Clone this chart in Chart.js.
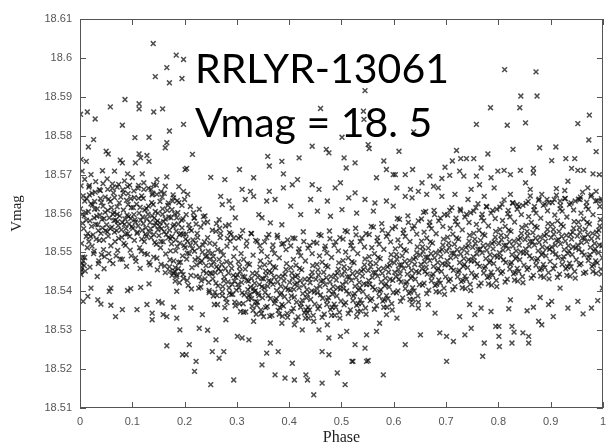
<!DOCTYPE html>
<html>
<head>
<meta charset="utf-8">
<script src="https://cdn.jsdelivr.net/npm/chart.js@4.4.1/dist/chart.umd.min.js"></script>
<style>
  html, body { margin: 0; padding: 0; background: #fff; }
  #wrap { width: 613px; height: 446px; }
</style>
</head>
<body>
<div id="wrap"><canvas id="lightCurve" width="613" height="446"></canvas></div>
<script>
// axis ticks
const xTicks = [0, 0.1, 0.2, 0.3, 0.4, 0.5, 0.6, 0.7, 0.8, 0.9, 1];
const xTickLabels = ['0', '0.1', '0.2', '0.3', '0.4', '0.5', '0.6', '0.7', '0.8', '0.9', '1'];
const yTicks = [18.51, 18.52, 18.53, 18.54, 18.55, 18.56, 18.57, 18.58, 18.59, 18.6, 18.61];
const yTickLabels = ['18.51', '18.52', '18.53', '18.54', '18.55', '18.56', '18.57', '18.58', '18.59', '18.6', '18.61'];
const overlayLines = ['RRLYR-13061', 'Vmag = 18. 5'];

// [phase, Vmag]: the dense band
const bandCore = [
  [0.002,18.5462],[0.004,18.5471],[0.003,18.5455],[0.006,18.5478],[0.001,18.5449],[0.008,18.5466],[0.005,18.5488],[0.010,18.5452],
  [0.003,18.5523],[0.007,18.5561],[0.004,18.5598],[0.009,18.5632],[0.002,18.5671],[0.012,18.5583],[0.014,18.5512],[0.016,18.5605],
  [0.018,18.5648],[0.020,18.5541],[0.022,18.5567],[0.024,18.5622],[0.026,18.5497],[0.027,18.5589],[0.029,18.5655],[0.031,18.5534],
  [0.033,18.5612],[0.034,18.5571],[0.036,18.5478],[0.038,18.5596],[0.040,18.5549],[0.041,18.5628],[0.043,18.5563],[0.045,18.5507],
  [0.046,18.5587],[0.048,18.5642],[0.049,18.5556],[0.013,18.5638],[0.019,18.5581],[0.025,18.5545],[0.032,18.5593],[0.044,18.5619],
  [0.011,18.5603],[0.017,18.5528],[0.037,18.5531],[0.047,18.5489],
  [0.051,18.5571],[0.053,18.5608],[0.054,18.5542],[0.056,18.5589],[0.058,18.5631],[0.059,18.5517],[0.061,18.5565],[0.063,18.5598],
  [0.064,18.5653],[0.066,18.5552],[0.068,18.5583],[0.069,18.5491],[0.071,18.5617],[0.073,18.5569],[0.074,18.5536],[0.076,18.5594],
  [0.078,18.5642],[0.079,18.5558],[0.081,18.5577],[0.083,18.5609],[0.084,18.5523],[0.086,18.5586],[0.088,18.5561],[0.089,18.5634],
  [0.091,18.5548],[0.093,18.5592],[0.094,18.5573],[0.096,18.5506],[0.098,18.5615],[0.099,18.5566],[0.057,18.5479],[0.062,18.5665],
  [0.067,18.5528],[0.072,18.5579],[0.077,18.5483],[0.082,18.5661],[0.087,18.5547],[0.092,18.5623],[0.097,18.5587],[0.065,18.5603],
  [0.101,18.5562],[0.103,18.5597],[0.104,18.5531],[0.106,18.5578],[0.108,18.5624],[0.109,18.5549],[0.111,18.5568],[0.113,18.5601],
  [0.114,18.5512],[0.116,18.5583],[0.118,18.5645],[0.119,18.5557],[0.121,18.5574],[0.123,18.5528],[0.124,18.5609],[0.126,18.5563],
  [0.128,18.5586],[0.129,18.5495],[0.131,18.5619],[0.133,18.5552],[0.134,18.5577],[0.136,18.5538],[0.138,18.5594],[0.139,18.5652],
  [0.141,18.5546],[0.143,18.5569],[0.144,18.5605],[0.146,18.5521],[0.148,18.5581],[0.149,18.5558],[0.107,18.5477],[0.112,18.5639],
  [0.117,18.5503],[0.122,18.5662],[0.127,18.5541],[0.132,18.5474],[0.137,18.5628],[0.142,18.5588],[0.147,18.5485],[0.102,18.5615],
  [0.151,18.5543],[0.153,18.5576],[0.154,18.5512],[0.156,18.5561],[0.158,18.5598],[0.159,18.5527],[0.161,18.5553],[0.163,18.5586],
  [0.164,18.5496],[0.166,18.5569],[0.168,18.5621],[0.169,18.5538],[0.171,18.5557],[0.173,18.5504],[0.174,18.5589],[0.176,18.5541],
  [0.178,18.5567],[0.179,18.5478],[0.181,18.5599],[0.183,18.5532],[0.184,18.5555],[0.186,18.5515],[0.188,18.5573],[0.189,18.5628],
  [0.191,18.5524],[0.193,18.5548],[0.194,18.5583],[0.196,18.5491],[0.198,18.5547],[0.199,18.5518],[0.157,18.5642],[0.162,18.5465],
  [0.167,18.5608],[0.172,18.5452],[0.177,18.5632],[0.182,18.5461],[0.187,18.5602],[0.192,18.5475],
  [0.185,18.5438],[0.190,18.5422],[0.194,18.5451],[0.198,18.5433],[0.176,18.5441],[0.171,18.5463],[0.188,18.5458],
  [0.201,18.5512],[0.203,18.5547],[0.204,18.5483],[0.206,18.5529],[0.208,18.5571],[0.209,18.5497],[0.211,18.5519],[0.213,18.5556],
  [0.214,18.5461],[0.216,18.5532],[0.218,18.5588],[0.219,18.5503],[0.221,18.5524],[0.223,18.5468],[0.224,18.5549],[0.226,18.5486],
  [0.228,18.5513],[0.229,18.5437],[0.231,18.5565],[0.233,18.5478],[0.234,18.5501],[0.236,18.5452],[0.238,18.5527],[0.239,18.5594],
  [0.241,18.5466],[0.243,18.5491],[0.244,18.5538],[0.246,18.5423],[0.248,18.5482],[0.249,18.5447],[0.207,18.5415],[0.217,18.5602],
  [0.227,18.5408],[0.237,18.5576],[0.247,18.5397],[0.212,18.5441],
  [0.251,18.5467],[0.253,18.5498],[0.254,18.5432],[0.256,18.5476],[0.258,18.5521],[0.259,18.5448],[0.261,18.5463],[0.263,18.5507],
  [0.264,18.5414],[0.266,18.5482],[0.268,18.5538],[0.269,18.5451],[0.271,18.5469],[0.273,18.5412],[0.274,18.5493],[0.276,18.5437],
  [0.278,18.5458],[0.279,18.5381],[0.281,18.5516],[0.283,18.5424],[0.284,18.5447],[0.286,18.5396],[0.288,18.5472],[0.289,18.5547],
  [0.291,18.5418],[0.293,18.5441],[0.294,18.5489],[0.296,18.5372],[0.298,18.5436],[0.299,18.5403],[0.257,18.5366],[0.267,18.5562],
  [0.277,18.5358],[0.287,18.5529],[0.297,18.5511],[0.262,18.5389],
  [0.301,18.5442],[0.303,18.5476],[0.304,18.5409],[0.306,18.5451],[0.308,18.5497],[0.309,18.5423],[0.311,18.5438],[0.313,18.5482],
  [0.314,18.5391],[0.316,18.5457],[0.318,18.5516],[0.319,18.5428],[0.321,18.5404],[0.323,18.5388],[0.324,18.5469],[0.326,18.5411],
  [0.328,18.5433],[0.329,18.5362],[0.331,18.5493],[0.333,18.5399],[0.334,18.5421],[0.336,18.5374],[0.338,18.5447],[0.339,18.5528],
  [0.341,18.5395],[0.343,18.5417],[0.344,18.5462],[0.346,18.5352],[0.348,18.5412],[0.349,18.5383],[0.307,18.5541],[0.317,18.5347],
  [0.327,18.5549],[0.337,18.5341],[0.347,18.5503],[0.322,18.5426],[0.332,18.5408],[0.342,18.5389],
  [0.351,18.5432],[0.353,18.5468],[0.354,18.5397],[0.356,18.5441],[0.358,18.5489],[0.359,18.5413],[0.361,18.5427],[0.363,18.5474],
  [0.364,18.5381],[0.366,18.5448],[0.368,18.5507],[0.369,18.5418],[0.371,18.5436],[0.373,18.5376],[0.374,18.5461],[0.376,18.5402],
  [0.378,18.5424],[0.379,18.5351],[0.381,18.5486],[0.383,18.5391],[0.384,18.5413],[0.386,18.5366],[0.388,18.5439],[0.389,18.5523],
  [0.391,18.5386],[0.393,18.5409],[0.394,18.5456],[0.396,18.5343],[0.398,18.5405],[0.399,18.5374],[0.357,18.5538],[0.367,18.5338],
  [0.377,18.5544],[0.387,18.5336],[0.397,18.5532],[0.362,18.5452],
  [0.401,18.5423],[0.403,18.5461],[0.404,18.5388],[0.406,18.5434],[0.408,18.5482],[0.409,18.5405],[0.411,18.5418],[0.413,18.5467],
  [0.414,18.5372],[0.416,18.5441],[0.418,18.5501],[0.419,18.5409],[0.421,18.5427],[0.423,18.5368],[0.424,18.5455],[0.426,18.5394],
  [0.428,18.5416],[0.429,18.5345],[0.431,18.5478],[0.433,18.5383],[0.434,18.5404],[0.436,18.5359],[0.438,18.5432],[0.439,18.5518],
  [0.441,18.5379],[0.443,18.5401],[0.444,18.5449],[0.446,18.5338],[0.448,18.5398],[0.449,18.5367],[0.407,18.5537],[0.417,18.5334],
  [0.427,18.5553],[0.437,18.5331],[0.447,18.5526],[0.412,18.5438],
  [0.451,18.5431],[0.453,18.5469],[0.454,18.5396],[0.456,18.5442],[0.458,18.5491],[0.459,18.5413],[0.461,18.5426],[0.463,18.5475],
  [0.464,18.5382],[0.466,18.5449],[0.468,18.5509],[0.469,18.5417],[0.471,18.5435],[0.473,18.5377],[0.474,18.5463],[0.476,18.5402],
  [0.478,18.5424],[0.479,18.5353],[0.481,18.5487],[0.483,18.5392],[0.484,18.5412],[0.486,18.5367],[0.488,18.5441],[0.489,18.5527],
  [0.491,18.5388],[0.493,18.5409],[0.494,18.5457],[0.496,18.5346],[0.498,18.5406],[0.499,18.5375],[0.457,18.5546],[0.467,18.5341],
  [0.477,18.5555],[0.487,18.5338],[0.497,18.5538],
  [0.501,18.5442],[0.503,18.5479],[0.504,18.5407],[0.506,18.5452],[0.508,18.5501],[0.509,18.5424],[0.511,18.5437],[0.513,18.5486],
  [0.514,18.5393],[0.516,18.5459],[0.518,18.5518],[0.519,18.5428],[0.521,18.5446],[0.523,18.5388],[0.524,18.5473],[0.526,18.5413],
  [0.528,18.5435],[0.529,18.5364],[0.531,18.5497],[0.533,18.5403],[0.534,18.5423],[0.536,18.5378],[0.538,18.5452],[0.539,18.5537],
  [0.541,18.5399],[0.543,18.5419],[0.544,18.5468],[0.546,18.5357],[0.548,18.5417],[0.549,18.5386],[0.507,18.5556],[0.517,18.5352],
  [0.527,18.5562],[0.537,18.5349],[0.547,18.5548],
  [0.551,18.5453],[0.553,18.5489],[0.554,18.5418],[0.556,18.5463],[0.558,18.5512],[0.559,18.5436],[0.561,18.5448],[0.563,18.5497],
  [0.564,18.5404],[0.566,18.5471],[0.568,18.5529],[0.569,18.5439],[0.571,18.5457],[0.573,18.5399],[0.574,18.5484],[0.576,18.5424],
  [0.578,18.5446],[0.579,18.5375],[0.581,18.5508],[0.583,18.5414],[0.584,18.5434],[0.586,18.5389],[0.588,18.5463],[0.589,18.5548],
  [0.591,18.5411],[0.593,18.5431],[0.594,18.5479],[0.596,18.5368],[0.598,18.5428],[0.599,18.5397],[0.557,18.5567],[0.567,18.5363],
  [0.577,18.5574],[0.587,18.5359],[0.597,18.5561],
  [0.601,18.5473],[0.603,18.5509],[0.604,18.5438],[0.606,18.5483],[0.608,18.5532],[0.609,18.5456],[0.611,18.5468],[0.613,18.5517],
  [0.614,18.5424],[0.616,18.5491],[0.618,18.5549],[0.619,18.5459],[0.621,18.5477],[0.623,18.5419],[0.624,18.5504],[0.626,18.5444],
  [0.628,18.5466],[0.629,18.5395],[0.631,18.5528],[0.633,18.5434],[0.634,18.5454],[0.636,18.5409],[0.638,18.5483],[0.639,18.5568],
  [0.641,18.5431],[0.643,18.5451],[0.644,18.5499],[0.646,18.5388],[0.648,18.5448],[0.649,18.5417],[0.607,18.5587],[0.617,18.5383],
  [0.627,18.5594],[0.637,18.5379],[0.647,18.5581],[0.612,18.5445],
  [0.651,18.5493],[0.653,18.5529],[0.654,18.5458],[0.656,18.5503],[0.658,18.5552],[0.659,18.5476],[0.661,18.5488],[0.663,18.5537],
  [0.664,18.5444],[0.666,18.5511],[0.668,18.5569],[0.669,18.5479],[0.671,18.5497],[0.673,18.5439],[0.674,18.5524],[0.676,18.5464],
  [0.678,18.5486],[0.679,18.5415],[0.681,18.5548],[0.683,18.5454],[0.684,18.5474],[0.686,18.5429],[0.688,18.5503],[0.689,18.5588],
  [0.691,18.5451],[0.693,18.5471],[0.694,18.5519],[0.696,18.5408],[0.698,18.5468],[0.699,18.5437],[0.657,18.5603],[0.667,18.5403],
  [0.677,18.5608],[0.687,18.5398],[0.697,18.5597],[0.662,18.5462],
  [0.701,18.5503],[0.703,18.5539],[0.704,18.5468],[0.706,18.5513],[0.708,18.5562],[0.709,18.5486],[0.711,18.5498],[0.713,18.5547],
  [0.714,18.5454],[0.716,18.5521],[0.718,18.5579],[0.719,18.5489],[0.721,18.5507],[0.723,18.5449],[0.724,18.5534],[0.726,18.5474],
  [0.728,18.5496],[0.729,18.5425],[0.731,18.5558],[0.733,18.5464],[0.734,18.5484],[0.736,18.5439],[0.738,18.5513],[0.739,18.5598],
  [0.741,18.5461],[0.743,18.5481],[0.744,18.5529],[0.746,18.5418],[0.748,18.5478],[0.749,18.5447],[0.707,18.5608],[0.717,18.5412],
  [0.727,18.5611],[0.737,18.5407],[0.747,18.5602],
  [0.751,18.5513],[0.753,18.5549],[0.754,18.5478],[0.756,18.5523],[0.758,18.5572],[0.759,18.5496],[0.761,18.5508],[0.763,18.5557],
  [0.764,18.5464],[0.766,18.5531],[0.768,18.5589],[0.769,18.5499],[0.771,18.5517],[0.773,18.5459],[0.774,18.5544],[0.776,18.5484],
  [0.778,18.5506],[0.779,18.5435],[0.781,18.5568],[0.783,18.5474],[0.784,18.5494],[0.786,18.5449],[0.788,18.5523],[0.789,18.5608],
  [0.791,18.5471],[0.793,18.5491],[0.794,18.5539],[0.796,18.5428],[0.798,18.5488],[0.799,18.5457],[0.757,18.5615],[0.767,18.5421],
  [0.777,18.5618],[0.787,18.5416],[0.797,18.5611],
  [0.801,18.5523],[0.803,18.5559],[0.804,18.5488],[0.806,18.5533],[0.808,18.5582],[0.809,18.5506],[0.811,18.5518],[0.813,18.5567],
  [0.814,18.5474],[0.816,18.5541],[0.818,18.5599],[0.819,18.5509],[0.821,18.5527],[0.823,18.5469],[0.824,18.5554],[0.826,18.5494],
  [0.828,18.5516],[0.829,18.5445],[0.831,18.5578],[0.833,18.5484],[0.834,18.5504],[0.836,18.5459],[0.838,18.5533],[0.839,18.5618],
  [0.841,18.5481],[0.843,18.5501],[0.844,18.5549],[0.846,18.5438],[0.848,18.5498],[0.849,18.5467],[0.807,18.5624],[0.817,18.5431],
  [0.827,18.5627],[0.837,18.5426],[0.847,18.5621],
  [0.851,18.5533],[0.853,18.5569],[0.854,18.5498],[0.856,18.5543],[0.858,18.5592],[0.859,18.5516],[0.861,18.5528],[0.863,18.5577],
  [0.864,18.5484],[0.866,18.5551],[0.868,18.5609],[0.869,18.5519],[0.871,18.5537],[0.873,18.5479],[0.874,18.5564],[0.876,18.5504],
  [0.878,18.5526],[0.879,18.5455],[0.881,18.5588],[0.883,18.5494],[0.884,18.5514],[0.886,18.5469],[0.888,18.5543],[0.889,18.5624],
  [0.891,18.5491],[0.893,18.5511],[0.894,18.5559],[0.896,18.5448],[0.898,18.5508],[0.899,18.5477],[0.857,18.5631],[0.867,18.5441],
  [0.877,18.5634],[0.887,18.5436],[0.897,18.5628],
  [0.901,18.5538],[0.903,18.5572],[0.904,18.5501],[0.906,18.5547],[0.908,18.5596],[0.909,18.5519],[0.911,18.5531],[0.913,18.5581],
  [0.914,18.5487],[0.916,18.5554],[0.918,18.5612],[0.919,18.5522],[0.921,18.5541],[0.923,18.5482],[0.924,18.5567],[0.926,18.5507],
  [0.928,18.5529],[0.929,18.5458],[0.931,18.5591],[0.933,18.5497],[0.934,18.5517],[0.936,18.5472],[0.938,18.5546],[0.939,18.5627],
  [0.941,18.5494],[0.943,18.5514],[0.944,18.5562],[0.946,18.5451],[0.948,18.5511],[0.949,18.5481],[0.907,18.5636],[0.917,18.5444],
  [0.927,18.5638],[0.937,18.5439],[0.947,18.5632],
  [0.951,18.5542],[0.953,18.5578],[0.954,18.5507],[0.956,18.5552],[0.958,18.5601],[0.959,18.5525],[0.961,18.5537],[0.963,18.5586],
  [0.964,18.5493],[0.966,18.5559],[0.968,18.5618],[0.969,18.5528],[0.971,18.5546],[0.973,18.5488],[0.974,18.5573],[0.976,18.5513],
  [0.978,18.5535],[0.979,18.5464],[0.981,18.5597],[0.983,18.5503],[0.984,18.5523],[0.986,18.5478],[0.988,18.5552],[0.989,18.5633],
  [0.991,18.5499],[0.993,18.5519],[0.994,18.5568],[0.996,18.5457],[0.998,18.5517],[0.999,18.5486],[0.957,18.5642],[0.967,18.5449],
  [0.977,18.5644],[0.987,18.5446],[0.997,18.5638]
];

// more points filling the darkest part of the band
const bandFill = [
  [0.005,18.5575],[0.015,18.5549],[0.028,18.5611],[0.035,18.5556],[0.042,18.5585],[0.021,18.5625],[0.008,18.5594],[0.039,18.5638],
  [0.045,18.5532],[0.012,18.5541],[0.030,18.5572],[0.048,18.5603],[0.023,18.5516],[0.001,18.5612],
  [0.052,18.5553],[0.060,18.5615],[0.070,18.5556],[0.075,18.5627],[0.085,18.5572],[0.090,18.5596],[0.095,18.5541],[0.055,18.5637],
  [0.065,18.5582],[0.080,18.5539],[0.058,18.5561],[0.092,18.5651],[0.071,18.5598],[0.087,18.5518],
  [0.105,18.5584],[0.110,18.5552],[0.115,18.5616],[0.120,18.5591],[0.125,18.5547],[0.130,18.5598],[0.135,18.5561],[0.140,18.5623],
  [0.145,18.5576],[0.104,18.5641],[0.118,18.5534],[0.127,18.5613],[0.143,18.5526],[0.149,18.5601],
  [0.152,18.5567],[0.155,18.5528],[0.160,18.5579],[0.165,18.5546],[0.170,18.5591],[0.175,18.5522],[0.180,18.5571],[0.185,18.5589],
  [0.190,18.5545],[0.195,18.5563],[0.158,18.5612],[0.173,18.5535],[0.183,18.5504],[0.197,18.5586],
  [0.202,18.5534],[0.205,18.5498],[0.210,18.5561],[0.215,18.5509],[0.220,18.5481],[0.225,18.5538],[0.230,18.5474],[0.235,18.5519],
  [0.240,18.5489],[0.245,18.5503],[0.222,18.5573],[0.232,18.5427],[0.242,18.5447],[0.248,18.5524],
  [0.252,18.5445],[0.255,18.5489],[0.260,18.5421],[0.265,18.5458],[0.270,18.5503],[0.275,18.5427],[0.280,18.5476],[0.285,18.5409],
  [0.290,18.5459],[0.295,18.5426],[0.258,18.5398],[0.272,18.5389],[0.282,18.5536],[0.292,18.5392],
  [0.302,18.5418],[0.305,18.5463],[0.310,18.5396],[0.315,18.5437],[0.320,18.5471],[0.325,18.5392],[0.330,18.5446],[0.335,18.5401],
  [0.340,18.5436],[0.345,18.5478],[0.312,18.5368],[0.328,18.5381],[0.338,18.5364],[0.348,18.5433],
  [0.352,18.5409],[0.355,18.5452],[0.360,18.5389],[0.365,18.5425],[0.370,18.5463],[0.375,18.5381],[0.380,18.5437],[0.385,18.5396],
  [0.390,18.5427],[0.395,18.5471],[0.358,18.5361],[0.372,18.5497],[0.382,18.5358],[0.392,18.5444],
  [0.402,18.5403],[0.405,18.5447],[0.410,18.5385],[0.415,18.5421],[0.420,18.5459],[0.425,18.5377],[0.430,18.5431],[0.435,18.5392],
  [0.440,18.5422],[0.445,18.5466],[0.408,18.5356],[0.422,18.5491],[0.432,18.5352],[0.442,18.5438],
  [0.452,18.5408],[0.455,18.5455],[0.460,18.5391],[0.465,18.5428],[0.470,18.5466],[0.475,18.5384],[0.480,18.5438],[0.485,18.5399],
  [0.490,18.5429],[0.495,18.5473],[0.458,18.5362],[0.472,18.5498],[0.482,18.5359],[0.492,18.5447],
  [0.502,18.5418],[0.505,18.5463],[0.510,18.5401],[0.515,18.5437],[0.520,18.5476],[0.525,18.5394],[0.530,18.5449],[0.535,18.5409],
  [0.540,18.5439],[0.545,18.5483],[0.508,18.5371],[0.522,18.5509],[0.532,18.5368],[0.542,18.5456],
  [0.552,18.5428],[0.555,18.5474],[0.560,18.5411],[0.565,18.5448],[0.570,18.5487],[0.575,18.5404],[0.580,18.5459],[0.585,18.5419],
  [0.590,18.5449],[0.595,18.5494],[0.558,18.5381],[0.572,18.5521],[0.582,18.5378],[0.592,18.5467],
  [0.602,18.5449],[0.605,18.5494],[0.610,18.5431],[0.615,18.5468],[0.620,18.5507],[0.625,18.5424],[0.630,18.5479],[0.635,18.5439],
  [0.640,18.5469],[0.645,18.5514],[0.608,18.5401],[0.622,18.5541],[0.632,18.5398],[0.642,18.5487],
  [0.652,18.5469],[0.655,18.5514],[0.660,18.5451],[0.665,18.5488],[0.670,18.5527],[0.675,18.5444],[0.680,18.5499],[0.685,18.5459],
  [0.690,18.5489],[0.695,18.5534],[0.658,18.5421],[0.672,18.5561],[0.682,18.5418],[0.692,18.5507],
  [0.702,18.5479],[0.705,18.5524],[0.710,18.5461],[0.715,18.5498],[0.720,18.5537],[0.725,18.5454],[0.730,18.5509],[0.735,18.5469],
  [0.740,18.5499],[0.745,18.5544],[0.708,18.5431],[0.722,18.5571],[0.732,18.5428],[0.742,18.5517],
  [0.752,18.5489],[0.755,18.5534],[0.760,18.5471],[0.765,18.5508],[0.770,18.5547],[0.775,18.5464],[0.780,18.5519],[0.785,18.5479],
  [0.790,18.5509],[0.795,18.5554],[0.758,18.5441],[0.772,18.5581],[0.782,18.5438],[0.792,18.5527],
  [0.802,18.5499],[0.805,18.5544],[0.810,18.5481],[0.815,18.5518],[0.820,18.5557],[0.825,18.5474],[0.830,18.5529],[0.835,18.5489],
  [0.840,18.5519],[0.845,18.5564],[0.808,18.5451],[0.822,18.5591],[0.832,18.5448],[0.842,18.5537],
  [0.852,18.5509],[0.855,18.5554],[0.860,18.5491],[0.865,18.5528],[0.870,18.5567],[0.875,18.5484],[0.880,18.5539],[0.885,18.5499],
  [0.890,18.5529],[0.895,18.5574],[0.858,18.5461],[0.872,18.5601],[0.882,18.5458],[0.892,18.5547],
  [0.902,18.5514],[0.905,18.5559],[0.910,18.5496],[0.915,18.5533],[0.920,18.5572],[0.925,18.5489],[0.930,18.5544],[0.935,18.5504],
  [0.940,18.5534],[0.945,18.5579],[0.908,18.5466],[0.922,18.5606],[0.932,18.5463],[0.942,18.5552],
  [0.952,18.5519],[0.955,18.5564],[0.960,18.5501],[0.965,18.5538],[0.970,18.5577],[0.975,18.5494],[0.980,18.5549],[0.985,18.5509],
  [0.990,18.5539],[0.995,18.5584],[0.958,18.5471],[0.972,18.5611],[0.982,18.5468],[0.992,18.5557]
];

// points along the upper and lower edges of the band
const bandEdge = [
  [0.006,18.5645],[0.017,18.5668],[0.028,18.5631],[0.039,18.5659],[0.044,18.5677],[0.023,18.5652],
  [0.009,18.5487],[0.019,18.5462],[0.027,18.5503],[0.035,18.5471],[0.046,18.5458],[0.041,18.5494],
  [0.053,18.5662],[0.066,18.5641],[0.074,18.5675],[0.083,18.5653],[0.091,18.5669],[0.097,18.5638],
  [0.055,18.5497],[0.063,18.5471],[0.072,18.5505],[0.081,18.5482],[0.089,18.5464],[0.098,18.5491],
  [0.103,18.5658],[0.112,18.5672],[0.121,18.5639],[0.131,18.5665],[0.138,18.5648],[0.146,18.5673],
  [0.106,18.5486],[0.115,18.5459],[0.124,18.5497],[0.134,18.5468],[0.141,18.5488],[0.148,18.5455],
  [0.153,18.5631],[0.161,18.5652],[0.169,18.5627],[0.178,18.5648],[0.186,18.5633],[0.195,18.5621],
  [0.155,18.5469],[0.163,18.5448],[0.172,18.5481],[0.181,18.5452],[0.189,18.5474],[0.197,18.5443],
  [0.203,18.5597],[0.211,18.5618],[0.219,18.5589],[0.228,18.5611],[0.236,18.5592],[0.244,18.5578],
  [0.205,18.5428],[0.213,18.5406],[0.222,18.5439],[0.231,18.5411],[0.239,18.5432],[0.247,18.5402],
  [0.253,18.5557],[0.261,18.5574],[0.269,18.5549],[0.278,18.5568],[0.286,18.5551],[0.294,18.5537],
  [0.255,18.5388],[0.263,18.5366],[0.272,18.5399],[0.281,18.5371],[0.289,18.5392],[0.297,18.5363],
  [0.303,18.5537],[0.311,18.5556],[0.319,18.5529],[0.328,18.5548],[0.336,18.5531],[0.344,18.5517],
  [0.305,18.5368],[0.313,18.5346],[0.322,18.5379],[0.331,18.5351],[0.339,18.5372],[0.347,18.5343],
  [0.353,18.5527],[0.361,18.5546],[0.369,18.5519],[0.378,18.5538],[0.386,18.5521],[0.394,18.5507],
  [0.355,18.5358],[0.363,18.5336],[0.372,18.5369],[0.381,18.5341],[0.389,18.5362],[0.397,18.5333],
  [0.403,18.5517],[0.411,18.5536],[0.419,18.5509],[0.428,18.5528],[0.436,18.5511],[0.444,18.5497],
  [0.405,18.5348],[0.413,18.5326],[0.422,18.5359],[0.431,18.5331],[0.439,18.5352],[0.447,18.5323],
  [0.453,18.5524],[0.461,18.5543],[0.469,18.5516],[0.478,18.5535],[0.486,18.5518],[0.494,18.5504],
  [0.455,18.5355],[0.463,18.5333],[0.472,18.5366],[0.481,18.5338],[0.489,18.5359],[0.497,18.5331],
  [0.503,18.5534],[0.511,18.5553],[0.519,18.5526],[0.528,18.5545],[0.536,18.5528],[0.544,18.5514],
  [0.505,18.5365],[0.513,18.5343],[0.522,18.5376],[0.531,18.5348],[0.539,18.5369],[0.547,18.5341],
  [0.553,18.5546],[0.561,18.5565],[0.569,18.5538],[0.578,18.5557],[0.586,18.5541],[0.594,18.5527],
  [0.555,18.5376],[0.563,18.5354],[0.572,18.5387],[0.581,18.5359],[0.589,18.5381],[0.597,18.5352],
  [0.603,18.5566],[0.611,18.5585],[0.619,18.5558],[0.628,18.5577],[0.636,18.5561],[0.644,18.5547],
  [0.605,18.5396],[0.613,18.5374],[0.622,18.5407],[0.631,18.5379],[0.639,18.5401],[0.647,18.5372],
  [0.653,18.5586],[0.661,18.5605],[0.669,18.5578],[0.678,18.5597],[0.686,18.5581],[0.694,18.5567],
  [0.655,18.5416],[0.663,18.5394],[0.672,18.5427],[0.681,18.5399],[0.689,18.5421],[0.697,18.5392],
  [0.703,18.5596],[0.711,18.5615],[0.719,18.5588],[0.728,18.5607],[0.736,18.5591],[0.744,18.5577],
  [0.705,18.5426],[0.713,18.5404],[0.722,18.5437],[0.731,18.5409],[0.739,18.5431],[0.747,18.5402],
  [0.753,18.5606],[0.761,18.5625],[0.769,18.5598],[0.778,18.5617],[0.786,18.5601],[0.794,18.5587],
  [0.755,18.5436],[0.763,18.5414],[0.772,18.5447],[0.781,18.5419],[0.789,18.5441],[0.797,18.5412],
  [0.803,18.5616],[0.811,18.5635],[0.819,18.5608],[0.828,18.5627],[0.836,18.5611],[0.844,18.5597],
  [0.805,18.5446],[0.813,18.5424],[0.822,18.5457],[0.831,18.5429],[0.839,18.5451],[0.847,18.5422],
  [0.853,18.5626],[0.861,18.5645],[0.869,18.5618],[0.878,18.5637],[0.886,18.5621],[0.894,18.5607],
  [0.855,18.5456],[0.863,18.5434],[0.872,18.5467],[0.881,18.5439],[0.889,18.5461],[0.897,18.5432],
  [0.903,18.5628],[0.911,18.5647],[0.919,18.5621],[0.928,18.5639],[0.936,18.5623],[0.944,18.5609],
  [0.905,18.5458],[0.913,18.5436],[0.922,18.5469],[0.931,18.5441],[0.939,18.5463],[0.947,18.5434],
  [0.953,18.5637],[0.961,18.5655],[0.969,18.5629],[0.978,18.5648],[0.986,18.5632],[0.994,18.5618],
  [0.955,18.5468],[0.963,18.5446],[0.972,18.5479],[0.981,18.5451],[0.989,18.5473],[0.997,18.5444]
];

// scattered points above the band (fainter)
const upperScatter = [
  [0.140,18.6037],[0.184,18.6007],[0.198,18.5996],[0.166,18.5975],[0.144,18.5952],[0.171,18.5936],[0.195,18.5947],[0.086,18.5893],
  [0.058,18.5874],[0.113,18.5882],[0.113,18.5869],[0.141,18.5861],[0.158,18.5869],[0.001,18.5855],[0.014,18.5861],[0.029,18.5843],
  [0.081,18.5827],[0.198,18.5829],[0.171,18.5812],[0.105,18.5795],[0.132,18.5796],[0.026,18.5790],[0.016,18.5771],[0.166,18.5782],
  [0.163,18.5769],[0.050,18.5760],[0.054,18.5753],[0.077,18.5737],[0.081,18.5730],[0.113,18.5753],[0.116,18.5743],[0.106,18.5730],
  [0.128,18.5749],[0.132,18.5734],[0.002,18.5739],[0.012,18.5734],[0.201,18.5713],[0.166,18.5694],[0.119,18.5702],[0.147,18.5687],
  [0.091,18.5702],[0.100,18.5692],[0.066,18.5709],[0.043,18.5710],[0.021,18.5700],[0.004,18.5709],[0.163,18.5670],[0.179,18.5640],
  [0.176,18.5610],[0.198,18.5657],[0.141,18.5674],[0.147,18.5649],
  [0.030,18.5682],[0.062,18.5676],[0.085,18.5684],[0.122,18.5679],[0.009,18.5688],[0.037,18.5661],[0.071,18.5668],[0.095,18.5673],
  [0.136,18.5662],[0.155,18.5656],[0.189,18.5669],[0.111,18.5665],[0.018,18.5672],[0.052,18.5689],
  [0.215,18.5752],[0.204,18.5716],[0.250,18.5693],[0.277,18.5687],[0.305,18.5713],[0.332,18.5692],[0.359,18.5747],[0.362,18.5722],
  [0.389,18.5702],[0.386,18.5734],[0.310,18.5662],[0.316,18.5636],[0.326,18.5657],[0.332,18.5644],[0.269,18.5644],[0.272,18.5623],
  [0.291,18.5614],[0.297,18.5589],[0.285,18.5632],[0.200,18.5636],[0.206,18.5649],[0.362,18.5657],[0.373,18.5636],[0.357,18.5632],
  [0.389,18.5666],[0.342,18.5597],[0.348,18.5589],[0.364,18.5576],[0.386,18.5571],[0.266,18.5584],[0.285,18.5571],[0.260,18.5554],
  [0.545,18.5916],[0.460,18.5870],[0.542,18.5863],[0.543,18.5842],[0.551,18.5777],[0.553,18.5767],[0.501,18.5796],[0.444,18.5773],
  [0.471,18.5765],[0.476,18.5756],[0.419,18.5743],[0.505,18.5743],[0.526,18.5730],[0.509,18.5717],[0.581,18.5735],[0.586,18.5713],
  [0.567,18.5692],[0.599,18.5700],[0.406,18.5674],[0.416,18.5687],[0.444,18.5674],[0.457,18.5662],[0.488,18.5666],[0.498,18.5679],
  [0.526,18.5653],[0.441,18.5636],[0.473,18.5632],[0.514,18.5640],[0.545,18.5636],[0.564,18.5627],[0.586,18.5632],[0.599,18.5619],
  [0.403,18.5619],[0.422,18.5597],[0.454,18.5606],[0.479,18.5593],[0.501,18.5610],[0.529,18.5601],[0.561,18.5606],
  [0.785,18.5872],[0.758,18.5829],[0.638,18.5810],[0.610,18.5760],[0.720,18.5762],[0.780,18.5753],[0.712,18.5735],[0.728,18.5741],
  [0.739,18.5741],[0.753,18.5741],[0.698,18.5719],[0.767,18.5717],[0.734,18.5696],[0.758,18.5696],[0.636,18.5713],[0.603,18.5700],
  [0.622,18.5700],[0.669,18.5696],[0.692,18.5690],[0.707,18.5698],[0.654,18.5679],[0.676,18.5670],[0.726,18.5709],[0.786,18.5692],
  [0.799,18.5709],[0.632,18.5662],[0.647,18.5657],[0.622,18.5644],[0.606,18.5666],[0.635,18.5640],[0.663,18.5649],[0.685,18.5666],
  [0.692,18.5644],[0.748,18.5662],[0.773,18.5644],[0.792,18.5666],[0.717,18.5649],[0.742,18.5636],[0.764,18.5674],
  [0.812,18.5970],[0.872,18.5964],[0.843,18.5902],[0.874,18.5902],[0.841,18.5872],[0.817,18.5827],[0.852,18.5833],[0.952,18.5831],
  [0.974,18.5853],[0.973,18.5789],[0.828,18.5765],[0.879,18.5769],[0.910,18.5771],[0.902,18.5736],[0.929,18.5741],[0.946,18.5741],
  [0.987,18.5759],[0.811,18.5711],[0.823,18.5700],[0.842,18.5711],[0.867,18.5716],[0.867,18.5704],[0.940,18.5716],[0.952,18.5711],
  [0.963,18.5711],[0.981,18.5702],[0.993,18.5700],[0.852,18.5679],[0.911,18.5664],[0.927,18.5659],[0.933,18.5683],[0.971,18.5666],
  [0.987,18.5657],[0.823,18.5649],[0.861,18.5662],[0.883,18.5649],[0.918,18.5632],[0.893,18.5636],[0.956,18.5636],[0.998,18.5632],
  [0.836,18.5623]
];

// scattered points below the band (brighter)
const lowerScatter = [
  [0.021,18.5408],[0.015,18.5387],[0.006,18.5374],[0.034,18.5378],[0.040,18.5367],[0.059,18.5364],[0.068,18.5335],[0.081,18.5353],
  [0.109,18.5353],[0.091,18.5402],[0.097,18.5407],[0.116,18.5410],[0.132,18.5419],[0.128,18.5366],[0.138,18.5344],[0.138,18.5327],
  [0.150,18.5374],[0.157,18.5370],[0.159,18.5340],[0.166,18.5335],[0.179,18.5359],[0.185,18.5331],[0.185,18.5400],[0.182,18.5426],
  [0.179,18.5447],[0.185,18.5443],[0.191,18.5301],[0.166,18.5260],[0.196,18.5237],[0.056,18.5400],[0.059,18.5408],[0.033,18.5438],
  [0.002,18.5443],
  [0.228,18.5305],[0.244,18.5300],[0.253,18.5245],[0.275,18.5245],[0.266,18.5228],[0.260,18.5275],[0.222,18.5220],[0.219,18.5194],
  [0.250,18.5160],[0.294,18.5172],[0.310,18.5280],[0.323,18.5275],[0.348,18.5211],[0.357,18.5241],[0.373,18.5185],[0.379,18.5245],
  [0.392,18.5177],[0.364,18.5267],[0.332,18.5323],[0.301,18.5284],[0.209,18.5263],[0.203,18.5237],[0.234,18.5340],[0.279,18.5327],
  [0.351,18.5335],[0.386,18.5318],[0.212,18.5357],[0.307,18.5348],
  [0.406,18.5215],[0.410,18.5172],[0.432,18.5185],[0.435,18.5172],[0.447,18.5134],[0.463,18.5164],[0.492,18.5190],[0.507,18.5160],
  [0.463,18.5245],[0.476,18.5237],[0.520,18.5220],[0.548,18.5220],[0.526,18.5263],[0.545,18.5254],[0.580,18.5185],[0.573,18.5318],
  [0.548,18.5288],[0.498,18.5284],[0.476,18.5280],[0.473,18.5314],[0.425,18.5301],[0.410,18.5314],[0.457,18.5301],[0.510,18.5297],
  [0.567,18.5297],[0.586,18.5340],[0.435,18.5344],[0.529,18.5335],[0.522,18.5220],[0.551,18.5222],
  [0.606,18.5331],[0.651,18.5288],[0.622,18.5263],[0.688,18.5293],[0.701,18.5284],[0.714,18.5271],[0.701,18.5220],[0.770,18.5233],
  [0.773,18.5267],[0.795,18.5310],[0.802,18.5258],[0.748,18.5305],[0.736,18.5288],[0.726,18.5335],[0.679,18.5344],[0.647,18.5357],
  [0.635,18.5366],[0.755,18.5340],[0.767,18.5357],[0.786,18.5348],[0.666,18.5366],[0.745,18.5366],
  [0.826,18.5310],[0.830,18.5295],[0.847,18.5293],[0.858,18.5284],[0.858,18.5267],[0.826,18.5267],[0.801,18.5310],[0.801,18.5284],
  [0.883,18.5314],[0.877,18.5323],[0.905,18.5335],[0.896,18.5366],[0.902,18.5374],[0.933,18.5357],[0.962,18.5342],[0.978,18.5357],
  [0.820,18.5355],[0.855,18.5350],[0.867,18.5359],[0.823,18.5378],[0.880,18.5384],[0.918,18.5408],[0.952,18.5374],[0.990,18.5376],
  [0.999,18.5408]
];

const allPoints = bandCore.concat(bandFill, bandEdge, upperScatter, lowerScatter).map(p => ({ x: p[0], y: p[1] }));

// gnuplot-like frame with inward ticks on all four sides
const frameTicks = {
  id: 'frameTicks',
  afterDraw(chart) {
    const { ctx, chartArea: a } = chart;
    const xs = chart.scales.x, ys = chart.scales.y;
    ctx.save();
    ctx.strokeStyle = '#555';
    ctx.lineWidth = 1;
    ctx.beginPath();
    xTicks.forEach(v => {
      const px = Math.round(xs.getPixelForValue(v)) + 0.5;
      ctx.moveTo(px, a.bottom); ctx.lineTo(px, a.bottom - 6);
      ctx.moveTo(px, a.top); ctx.lineTo(px, a.top + 6);
    });
    yTicks.forEach(v => {
      const py = Math.round(ys.getPixelForValue(v)) + 0.5;
      ctx.moveTo(a.left, py); ctx.lineTo(a.left + 6, py);
      ctx.moveTo(a.right, py); ctx.lineTo(a.right - 6, py);
    });
    ctx.stroke();
    ctx.strokeRect(Math.round(a.left) + 0.5, Math.round(a.top) + 0.5,
      Math.round(a.width) - 1, Math.round(a.height) - 1);
    ctx.restore();
  }
};

// big caption typed over the plot
const overlayCaption = {
  id: 'overlayCaption',
  afterDraw(chart) {
    const { ctx, chartArea: a } = chart;
    ctx.save();
    ctx.font = '41px Lato';
    ctx.fillStyle = '#000';
    ctx.textBaseline = 'alphabetic';
    ctx.fillText(overlayLines[0], a.left + 115, 83);
    ctx.fillText(overlayLines[1], a.left + 115, 137);
    ctx.restore();
  }
};

new Chart(document.getElementById('lightCurve'), {
  type: 'scatter',
  data: {
    datasets: [{
      label: 'Vmag',
      data: allPoints,
      pointStyle: 'crossRot',
      pointRadius: 3.4,
      borderWidth: 1.5,
      borderColor: 'rgba(10,10,10,0.72)',
      backgroundColor: 'rgba(10,10,10,0.72)'
    }]
  },
  options: {
    responsive: false,
    animation: false,
    events: [],
    layout: { padding: { top: 19, right: 4, left: 0, bottom: 0 } },
    plugins: { legend: { display: false }, tooltip: { enabled: false } },
    scales: {
      x: {
        type: 'linear',
        min: 0,
        max: 1,
        grid: { display: false, drawTicks: false },
        border: { display: false },
        afterBuildTicks: s => { s.ticks = xTicks.map(v => ({ value: v })); },
        afterFit: s => { s.height = 38; },
        ticks: {
          padding: 7,
          maxRotation: 0,
          color: '#555',
          font: { family: 'Liberation Sans', size: 11 },
          callback: (v, i) => xTickLabels[i]
        },
        title: {
          display: true,
          text: 'Phase',
          color: '#222',
          font: { family: 'Liberation Serif', size: 16, lineHeight: 1 },
          padding: { top: 0, bottom: 0 }
        }
      },
      y: {
        type: 'linear',
        min: 18.51,
        max: 18.61,
        grid: { display: false, drawTicks: false },
        border: { display: false },
        afterBuildTicks: s => { s.ticks = yTicks.map(v => ({ value: v })); },
        afterFit: s => { s.width = 80; },
        ticks: {
          padding: 8,
          color: '#555',
          font: { family: 'Liberation Sans', size: 11 },
          callback: (v, i) => yTickLabels[i]
        },
        title: {
          display: true,
          text: 'Vmag',
          color: '#222',
          font: { family: 'Liberation Serif', size: 15, lineHeight: 1 },
          padding: { top: 10, bottom: 0 }
        }
      }
    }
  },
  plugins: [frameTicks, overlayCaption]
});
</script>
</body>
</html>
